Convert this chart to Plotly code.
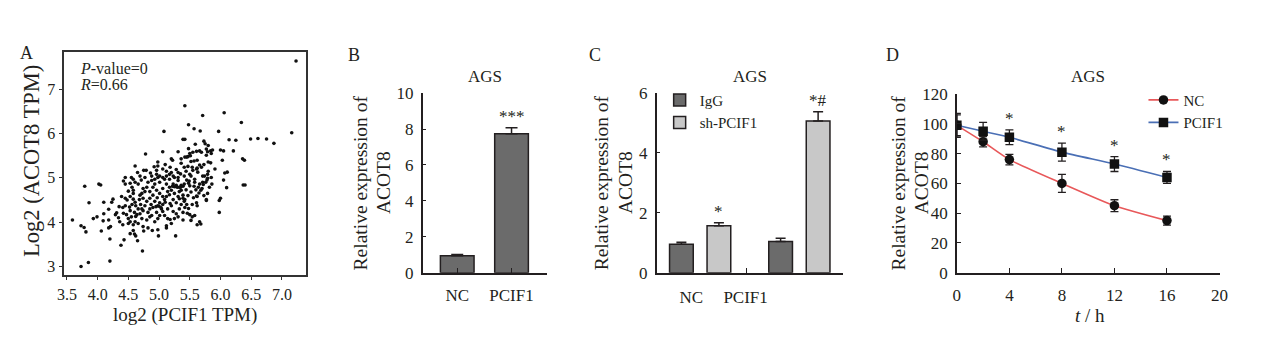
import plotly.graph_objects as go

W, H = 1268, 347
FONT = "Liberation Serif, Times New Roman, serif"
INK = "#231f20"

# ---------------- Panel A: scatter (log2 TPM) ----------------
pcif1_log2 = [
    7.23, 5.42, 5.71, 6.06, 6.34, 5.48, 5.57, 5.67, 5.08, 5.97,
    7.16, 6.49, 6.61, 6.75, 6.87, 6.14, 6.25, 5.39, 5.42, 5.59,
    5.73, 5.75, 5.80, 4.78, 5.06, 5.31, 5.48, 5.66, 5.61, 5.69,
    5.77, 5.79, 5.84, 5.87, 5.85, 6.00, 6.05, 6.21, 5.50, 5.55,
    5.42, 5.47, 5.51, 5.57, 5.62, 5.77, 5.80, 5.84, 6.03, 6.36,
    6.39, 5.20, 5.22, 5.36, 5.45, 4.61, 4.98, 4.98, 5.06, 5.18,
    5.36, 5.41, 4.75, 4.79, 4.96, 5.12, 5.28, 5.31, 4.55, 4.69,
    5.47, 5.54, 5.61, 5.66, 5.69, 5.91, 6.07, 6.11, 5.50, 5.55,
    5.63, 5.71, 5.79, 5.85, 4.96, 5.01, 5.06, 5.12, 5.17, 5.23,
    5.31, 5.41, 5.58, 5.66, 5.71, 5.78, 6.05, 6.10, 6.37, 6.40,
    5.57, 5.64, 5.68, 5.70, 5.82, 5.86, 5.79, 5.61, 5.62, 5.77,
    5.98, 6.00, 5.42, 5.45, 5.42, 5.48, 5.54, 5.61, 5.62, 5.98,
    5.50, 5.54, 5.68, 5.62, 5.52, 5.58, 5.74, 5.79, 5.45, 5.48,
    3.59, 3.73, 3.78, 3.81, 3.79, 3.86, 3.73, 3.85, 4.02, 4.05,
    3.93, 3.99, 4.06, 4.10, 4.10, 4.09, 4.18, 4.18, 4.21, 4.20,
    4.20, 4.23, 4.25, 4.18, 4.29, 4.31, 4.34, 4.36, 4.38, 4.39,
    4.45, 4.45, 4.41, 4.41, 4.45, 4.42, 4.45, 4.43, 4.47, 4.50,
    4.53, 4.55, 4.50, 4.58, 4.61, 4.58, 4.53, 4.60, 4.65, 4.73,
    4.56, 4.58, 4.58, 4.53, 4.58, 4.61, 4.56, 4.62, 4.66, 4.53,
    4.60, 4.64, 4.69, 4.74, 4.70, 4.68, 4.74, 4.72, 4.77, 4.74,
    4.80, 4.61, 4.58, 4.82, 4.77, 4.88, 4.88, 4.93, 4.98, 5.01,
    4.90, 4.96, 4.90, 4.85, 4.93, 5.01, 4.98, 4.90, 4.82, 4.88,
    4.96, 5.04, 5.06, 5.09, 5.12, 5.14, 5.06, 5.17, 5.23, 5.17,
    5.25, 5.31, 5.28, 5.33, 5.36, 5.39, 5.41, 5.33, 5.39, 5.31,
    5.23, 5.20, 5.14, 5.06, 5.09, 4.98, 4.93, 4.85, 4.80, 4.72,
    4.66, 4.74, 4.82, 4.89, 4.98, 5.12, 5.20, 5.25, 5.28, 5.33,
    5.36, 5.41, 5.28, 5.25, 5.20, 5.12, 5.09, 4.93, 4.85, 5.01,
    5.06, 5.17, 5.36, 5.39, 5.23, 5.01, 4.85, 4.77, 4.80, 4.69,
    4.66, 5.14, 5.31, 5.39, 5.28, 5.30, 5.35, 5.25, 5.22, 5.00,
    5.03, 4.95, 4.97, 4.72, 4.62, 5.10, 5.18, 4.87, 5.44, 5.47,
    5.52, 5.50, 5.56, 5.46, 5.52, 5.33, 5.49, 5.60, 5.72, 5.65,
    5.73, 5.76, 5.80, 5.62, 5.73, 5.52, 5.44, 5.35, 5.20, 5.10,
    4.92, 4.86, 4.71, 4.65, 4.53, 4.50, 4.48, 4.52, 4.42, 4.35,
    5.18, 5.12, 5.27, 4.99, 4.75, 4.62, 5.39, 5.66, 5.58, 5.77,
]
acot8_log2 = [
    7.64, 6.63, 6.41, 6.47, 6.25, 6.20, 6.11, 6.06, 6.05, 6.05,
    6.02, 5.88, 5.89, 5.88, 5.78, 5.86, 5.85, 5.87, 5.87, 5.76,
    5.83, 5.77, 5.73, 5.54, 5.59, 5.59, 5.66, 5.61, 5.60, 5.58,
    5.65, 5.59, 5.61, 5.63, 5.55, 5.63, 5.61, 5.61, 5.55, 5.58,
    5.47, 5.48, 5.50, 5.38, 5.40, 5.51, 5.36, 5.34, 5.40, 5.43,
    5.40, 5.43, 5.40, 5.43, 5.47, 5.27, 5.36, 5.27, 5.20, 5.24,
    5.33, 5.24, 5.17, 5.17, 5.17, 5.15, 5.19, 5.12, 5.01, 5.04,
    5.26, 5.24, 5.20, 5.29, 5.24, 5.20, 5.11, 5.13, 5.08, 5.17,
    5.13, 5.04, 5.08, 5.01, 5.08, 5.04, 5.01, 5.04, 5.08, 5.04,
    5.01, 5.04, 4.90, 4.86, 4.90, 4.95, 4.95, 4.78, 4.84, 4.84,
    4.81, 4.79, 4.72, 4.76, 4.79, 4.86, 4.65, 4.59, 4.58, 4.49,
    4.49, 4.54, 4.51, 4.40, 4.33, 4.31, 4.40, 4.44, 4.37, 4.22,
    4.17, 4.12, 3.96, 3.94, 5.04, 4.97, 5.04, 4.99, 4.95, 4.88,
    4.05, 3.92, 3.88, 3.78, 4.81, 4.44, 3.00, 3.09, 4.86, 4.84,
    4.08, 4.12, 3.80, 4.45, 4.19, 4.03, 4.05, 3.87, 3.90, 3.62,
    3.12, 4.45, 4.52, 4.29, 4.17, 4.21, 4.10, 4.01, 3.48, 4.58,
    4.54, 4.37, 4.33, 3.94, 4.86, 4.93, 5.01, 3.60, 4.17, 4.08,
    4.01, 4.12, 3.97, 3.94, 4.01, 3.81, 3.74, 3.73, 3.58, 3.35,
    4.79, 4.72, 4.65, 4.58, 4.52, 4.45, 4.40, 4.37, 4.30, 4.26,
    4.22, 4.17, 4.19, 4.26, 4.40, 4.51, 4.54, 4.65, 4.69, 4.76,
    4.79, 4.90, 4.97, 4.90, 5.01, 5.04, 4.94, 4.97, 5.01, 4.90,
    4.79, 4.72, 4.61, 4.54, 4.47, 4.44, 4.37, 4.33, 4.22, 4.15,
    4.22, 4.30, 4.40, 4.51, 4.58, 4.69, 4.76, 4.79, 4.86, 4.97,
    5.01, 4.94, 4.83, 4.79, 4.83, 4.81, 4.86, 4.69, 4.61, 4.58,
    4.51, 4.37, 4.30, 4.24, 4.15, 4.08, 4.01, 4.12, 4.05, 4.08,
    3.97, 3.90, 3.87, 3.81, 3.83, 3.87, 3.97, 4.08, 4.19, 4.30,
    4.40, 4.47, 4.44, 4.65, 4.72, 4.86, 4.97, 4.86, 4.69, 4.65,
    4.58, 4.62, 4.72, 4.54, 4.24, 4.15, 4.30, 4.37, 4.47, 4.61,
    4.86, 4.08, 4.12, 4.22, 4.80, 4.79, 4.79, 4.80, 4.81, 4.36,
    4.33, 4.35, 4.55, 4.30, 4.13, 4.45, 4.42, 4.40, 4.73, 4.60,
    4.68, 4.82, 4.55, 4.20, 4.04, 4.53, 4.93, 4.73, 4.85, 4.66,
    4.60, 4.90, 5.15, 5.22, 5.30, 5.37, 5.15, 5.09, 5.12, 5.30,
    5.25, 5.11, 4.95, 5.12, 4.88, 4.70, 4.50, 4.34, 4.20, 4.35,
    4.06, 3.92, 3.69, 3.69, 3.80, 3.69, 4.05, 4.01, 4.15, 4.51,
]
a_xticks = [3.5, 4.0, 4.5, 5.0, 5.5, 6.0, 6.5, 7.0]
a_yticks = [3, 4, 5, 6, 7]

# ---------------- Panel B ----------------
b_groups = ["NC", "PCIF1"]
b_values = [0.95, 7.74]
b_errors = [0.06, 0.33]
b_sig = ["", "***"]

# ---------------- Panel C ----------------
c_groups = ["NC", "PCIF1"]
c_igg = [0.95, 1.04]
c_igg_err = [0.07, 0.11]
c_sh = [1.57, 5.07]
c_sh_err = [0.10, 0.31]
c_sig = ["*", "*#"]

# ---------------- Panel D ----------------
d_hours = [0, 2, 4, 8, 12, 16]
d_nc = [99, 88, 76, 60, 45, 35]
d_nc_err = [8, 3.5, 3.5, 6, 4, 3]
d_pcif1 = [99, 95, 91, 81, 73, 64]
d_pcif1_err = [7, 6, 5, 6, 5, 4]
d_sig = ["", "", "*", "*", "*", "*"]


def px(x):
    return x / W


def py(y):
    return 1 - y / H


fig = go.Figure()

# Panel A
fig.add_trace(go.Scatter(
    x=pcif1_log2, y=acot8_log2, mode="markers", xaxis="x", yaxis="y",
    marker=dict(color="#111111", size=3.6), showlegend=False))

# Panel B
fig.add_trace(go.Bar(
    x=b_groups, y=b_values, xaxis="x2", yaxis="y2", width=0.62,
    marker=dict(color="#6b6b6b", line=dict(color=INK, width=1.5)),
    error_y=dict(type="data", array=b_errors, arrayminus=[0] * len(b_errors),
                 symmetric=False, color=INK, thickness=1.5, width=6),
    showlegend=False))

# Panel C
c_pos = list(range(len(c_groups)))
bw = 0.239
shift = 0.189
fig.add_trace(go.Bar(
    x=c_pos, y=c_igg, xaxis="x3", yaxis="y3", width=bw, offset=-shift - bw / 2,
    name="IgG", legend="legend",
    marker=dict(color="#6b6b6b", line=dict(color=INK, width=1.5)),
    error_y=dict(type="data", array=c_igg_err, arrayminus=[0] * len(c_igg_err),
                 symmetric=False, color=INK, thickness=1.5, width=5)))
fig.add_trace(go.Bar(
    x=c_pos, y=c_sh, xaxis="x3", yaxis="y3", width=bw, offset=shift - bw / 2,
    name="sh-PCIF1", legend="legend",
    marker=dict(color="#c8c8c8", line=dict(color=INK, width=1.5)),
    error_y=dict(type="data", array=c_sh_err, arrayminus=[0] * len(c_sh_err),
                 symmetric=False, color=INK, thickness=1.5, width=5)))

# Panel D
fig.add_trace(go.Scatter(
    x=d_hours, y=d_nc, xaxis="x4", yaxis="y4", name="NC", legend="legend2",
    mode="lines+markers", line=dict(color="#e8585a", width=1.6, shape="spline", smoothing=0.6),
    marker=dict(symbol="circle", color="#111111", size=9.5),
    error_y=dict(type="data", array=d_nc_err, color=INK, thickness=1.3, width=4)))
fig.add_trace(go.Scatter(
    x=d_hours, y=d_pcif1, xaxis="x4", yaxis="y4", name="PCIF1", legend="legend2",
    mode="lines+markers", line=dict(color="#4a6fb5", width=1.6, shape="spline", smoothing=0.6),
    marker=dict(symbol="square", color="#111111", size=9.5),
    error_y=dict(type="data", array=d_pcif1_err, color=INK, thickness=1.3, width=4)))

tickfont = dict(family=FONT, size=17, color=INK)


def axis(**kw):
    base = dict(showline=True, linecolor=INK, linewidth=1.5, showgrid=False,
                zeroline=False, tickfont=tickfont, tickcolor=INK, ticklen=4, tickwidth=1.3)
    base.update(kw)
    return base


fig.update_layout(
    width=W, height=H, margin=dict(l=0, r=0, t=0, b=0),
    paper_bgcolor="white", plot_bgcolor="white",
    font=dict(family=FONT, color=INK, size=17),
    barmode="overlay",
    # A
    xaxis=axis(domain=[px(58), px(303)], range=[3.457, 7.395], anchor="y",
               tickvals=a_xticks, tickformat=".1f", ticks="outside", mirror=True,
               linecolor="#333333", tickcolor="#333333", ticklen=4,
               tickfont=dict(tickfont, size=16)),
    yaxis=axis(domain=[py(281), py(45)], range=[2.815, 7.854], anchor="x",
               tickvals=a_yticks, ticks="outside", mirror=True,
               linecolor="#333333", tickcolor="#333333", ticklen=4,
               tickfont=dict(tickfont, size=16)),
    # B
    xaxis2=axis(domain=[px(421), px(547)], range=[-0.636, 1.655], anchor="y2",
                type="category", ticks="inside", ticklen=5, ticklabelstandoff=6),
    yaxis2=axis(domain=[py(279), py(89)], range=[0, 10], anchor="x2",
                tickvals=[0, 2, 4, 6, 8, 10], ticks="inside", ticklabelstandoff=4),
    # C
    xaxis3=axis(domain=[px(658), px(847)], range=[-0.438, 1.443], anchor="y3",
                tickvals=[-0.09, 0.458], ticktext=c_groups, ticks="", ticklabelstandoff=8,
                minor=dict(tickvals=[0.468], ticks="inside", ticklen=5, tickcolor=INK, tickwidth=1.3)),
    yaxis3=axis(domain=[py(279), py(89)], range=[0, 6], anchor="x3",
                tickvals=[0, 2, 4, 6], ticks="inside", ticklabelstandoff=4),
    # D
    xaxis4=axis(domain=[px(962), px(1228)], range=[0, 20], anchor="y4",
                tickvals=[0, 4, 8, 12, 16, 20], ticks="inside", ticklen=5, ticklabelstandoff=6),
    yaxis4=axis(domain=[py(279), py(90)], range=[0, 120], anchor="x4",
                tickvals=[0, 20, 40, 60, 80, 100, 120], ticks="inside", ticklabelstandoff=4),
    legend=dict(x=px(661), y=py(79), xanchor="left", yanchor="top",
                bgcolor="rgba(0,0,0,0)", font=dict(family=FONT, size=15, color=INK),
                tracegroupgap=0, itemwidth=30),
    legend2=dict(x=px(1151), y=py(79), xanchor="left", yanchor="top",
                 bgcolor="rgba(0,0,0,0)", font=dict(family=FONT, size=15, color=INK),
                 tracegroupgap=0, itemwidth=30),
)

ann = []


def text(x, y, s, size=17, xanchor="center", yanchor="middle", angle=0, xref="paper", yref="paper"):
    ann.append(dict(x=x, y=y, xref=xref, yref=yref, text=s, showarrow=False,
                    xanchor=xanchor, yanchor=yanchor, textangle=angle,
                    font=dict(family=FONT, size=size, color=INK)))


# panel letters
text(px(20), py(47), "A", 18)
text(px(351), py(49), "B", 18)
text(px(596), py(49), "C", 18)
text(px(897), py(49), "D", 18)

# Panel A texts
text(px(72), py(63), "<i>P</i>-value=0", 16, xanchor="left")
text(px(72), py(80), "<i>R</i>=0.66", 16, xanchor="left")
text(px(24), py(161), "Log2 (ACOT8 TPM)", 22.5, angle=-90)
text(px(180), py(324), "log2 (PCIF1 TPM)", 19)

# titles
for cx in (484, 752.5, 1095):
    text(px(cx), py(71), "AGS", 17)

# y titles B, C, D (two lines each)
for cx in (358, 603, 903):
    text(px(cx), py(184), "Relative expression of", 19.5, angle=-90)
    text(px(cx + 24), py(184), "ACOT8", 19.5, angle=-90)

# D x title
text(px(1097), py(324), "<i>t</i> / h", 19)

# significance marks
for g, v, e, s in zip(b_groups, b_values, b_errors, b_sig):
    if s:
        text(g, v + e, s, 17, yanchor="bottom", xref="x2", yref="y2")
for i, (v, e, s) in enumerate(zip(c_sh, c_sh_err, c_sig)):
    if s:
        text(c_pos[i] + shift, v + e, s, 17, yanchor="bottom", xref="x3", yref="y3")
for t, v, e, s in zip(d_hours, d_pcif1, d_pcif1_err, d_sig):
    if s:
        text(t, v + e, s, 17, yanchor="bottom", xref="x4", yref="y4")

fig.update_layout(annotations=ann)
fig.write_html("out.html")
